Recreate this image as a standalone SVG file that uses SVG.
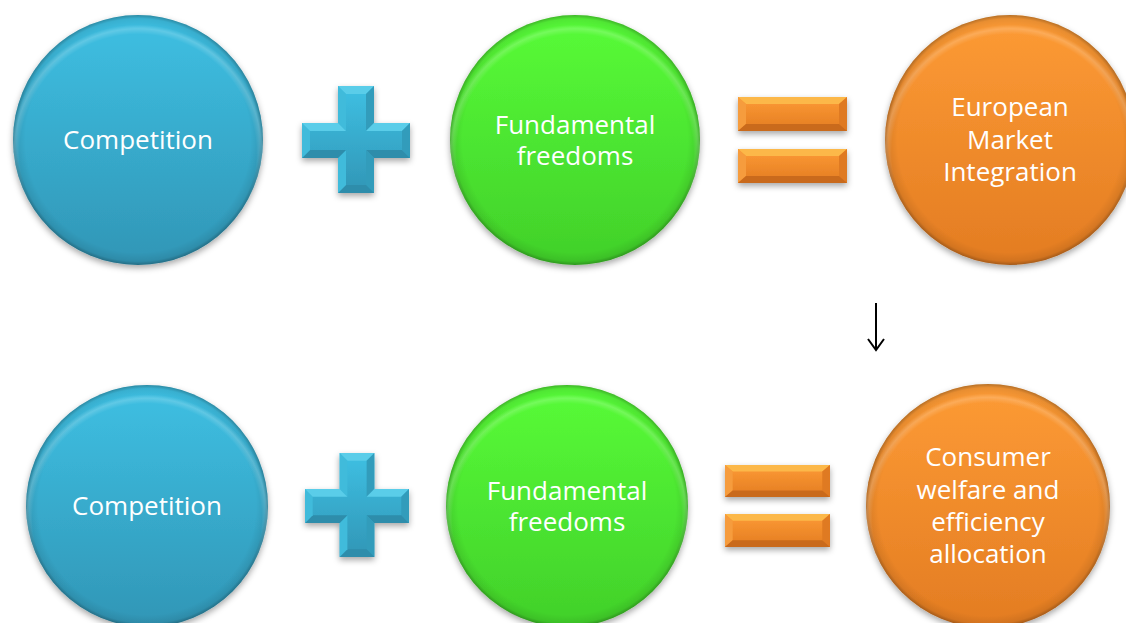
<svg xmlns="http://www.w3.org/2000/svg" width="1126" height="623" viewBox="0 0 1126 623">
<defs>
<linearGradient id="gBlue" x1="0" y1="0" x2="0" y2="1"><stop offset="0" stop-color="#3ec0e3"/><stop offset="1" stop-color="#3196b6"/></linearGradient>
<linearGradient id="gGreen" x1="0" y1="0" x2="0" y2="1"><stop offset="0" stop-color="#58fc38"/><stop offset="1" stop-color="#41d02a"/></linearGradient>
<linearGradient id="gOrange" x1="0" y1="0" x2="0" y2="1"><stop offset="0" stop-color="#fd9b35"/><stop offset="1" stop-color="#e37c22"/></linearGradient>
<radialGradient id="rim" cx="0.5" cy="0.5" r="0.5">
<stop offset="0" stop-color="#000" stop-opacity="0"/>
<stop offset="0.9" stop-color="#000" stop-opacity="0"/>
<stop offset="0.97" stop-color="#000" stop-opacity="0.08"/>
<stop offset="1" stop-color="#000" stop-opacity="0.28"/>
</radialGradient>
<radialGradient id="hi" cx="0.5" cy="0.55" r="0.55">
<stop offset="0" stop-color="#fff" stop-opacity="0"/>
<stop offset="0.86" stop-color="#fff" stop-opacity="0"/>
<stop offset="0.9" stop-color="#fff" stop-opacity="0.18"/>
<stop offset="0.93" stop-color="#fff" stop-opacity="0"/>
</radialGradient>
<filter id="shadow" x="-20%" y="-20%" width="140%" height="140%">
<feDropShadow dx="0" dy="3" stdDeviation="3" flood-color="#000" flood-opacity="0.35"/>
</filter>
<g id="plusShape">
<polygon class="pface" points="36,0 72,0 72,37 108,37 108,72 72,72 72,107 36,107 36,72 0,72 0,37 36,37"/>
<polygon class="ptop" points="36,0 72,0 64,8 44,8"/>
<polygon class="pleft" points="36,0 44,8 44,45 36,37"/>
<polygon class="pright" points="72,0 72,37 64,45 64,8"/>
<polygon class="ptop" points="72,37 108,37 100,45 64,45"/>
<polygon class="pright" points="108,37 108,72 100,64 100,45"/>
<polygon class="pbot" points="108,72 72,72 64,64 100,64"/>
<polygon class="pright" points="72,72 72,107 64,99 64,64"/>
<polygon class="pbot" points="72,107 36,107 44,99 64,99"/>
<polygon class="pleft" points="36,107 36,72 44,64 44,99"/>
<polygon class="pbot" points="36,72 0,72 8,64 44,64"/>
<polygon class="pleft" points="0,72 0,37 8,45 8,64"/>
<polygon class="ptop" points="0,37 36,37 44,45 8,45"/>
</g>
<g id="barShape">
<rect class="eface" x="0" y="0" width="109" height="34"/>
<polygon class="etop" points="0,0 109,0 101,7 8,7"/>
<polygon class="eleft" points="0,0 8,7 8,27 0,34"/>
<polygon class="eright" points="109,0 109,34 101,27 101,7"/>
<polygon class="ebot" points="0,34 109,34 101,27 8,27"/>
</g>
</defs>
<style>
.txt{font-family:"Open Sans","Noto Sans","Liberation Sans",sans-serif;font-size:26px;fill:#ffffff;text-anchor:middle}
.pface{fill:url(#gBlue)}
.ptop{fill:#5acde9}
.pleft{fill:#40bbdb}
.pright{fill:#329cbb}
.pbot{fill:#2d8dab}
.eface{fill:url(#gOrange)}
.etop{fill:#fcb848}
.eleft{fill:#f69c3c}
.eright{fill:#df7a22}
.ebot{fill:#c96a1d}
.sym{filter:url(#shadow)}
.arrow{fill:none;stroke:#000;stroke-width:2}
</style>

<g id="n1">
<circle cx="138" cy="140" r="125" fill="url(#gBlue)" filter="url(#shadow)"/>
<circle cx="138" cy="140" r="125" fill="url(#rim)"/>
<circle cx="138" cy="140" r="125" fill="url(#hi)"/>
<text class="txt" x="138" y="149">Competition</text>
</g>
<g id="plus1" class="sym"><use href="#plusShape" x="302" y="86"/></g>
<g id="n2">
<circle cx="575" cy="140" r="125" fill="url(#gGreen)" filter="url(#shadow)"/>
<circle cx="575" cy="140" r="125" fill="url(#rim)"/>
<circle cx="575" cy="140" r="125" fill="url(#hi)"/>
<text class="txt" x="575" y="134">Fundamental</text>
<text class="txt" x="575" y="165">freedoms</text>
</g>
<g id="eq1" class="sym">
<use href="#barShape" x="738" y="97"/>
<use href="#barShape" x="738" y="149"/>
</g>
<g id="n3">
<circle cx="1010" cy="140" r="125" fill="url(#gOrange)" filter="url(#shadow)"/>
<circle cx="1010" cy="140" r="125" fill="url(#rim)"/>
<circle cx="1010" cy="140" r="125" fill="url(#hi)"/>
<text class="txt" x="1010" y="116">European</text>
<text class="txt" x="1010" y="149">Market</text>
<text class="txt" x="1010" y="181">Integration</text>
</g>

<g id="n4">
<circle cx="147" cy="506" r="121" fill="url(#gBlue)" filter="url(#shadow)"/>
<circle cx="147" cy="506" r="121" fill="url(#rim)"/>
<circle cx="147" cy="506" r="121" fill="url(#hi)"/>
<text class="txt" x="147" y="515">Competition</text>
</g>
<g id="plus2" class="sym"><use href="#plusShape" transform="translate(305 453) scale(0.963 0.972)"/></g>
<g id="n5">
<circle cx="567" cy="506" r="121" fill="url(#gGreen)" filter="url(#shadow)"/>
<circle cx="567" cy="506" r="121" fill="url(#rim)"/>
<circle cx="567" cy="506" r="121" fill="url(#hi)"/>
<text class="txt" x="567" y="500">Fundamental</text>
<text class="txt" x="567" y="531">freedoms</text>
</g>
<g id="eq2" class="sym">
<use href="#barShape" transform="translate(725 465) scale(0.963 0.94)"/>
<use href="#barShape" transform="translate(725 514) scale(0.963 0.97)"/>
</g>
<g id="n6">
<circle cx="988" cy="506" r="122" fill="url(#gOrange)" filter="url(#shadow)"/>
<circle cx="988" cy="506" r="122" fill="url(#rim)"/>
<circle cx="988" cy="506" r="122" fill="url(#hi)"/>
<text class="txt" x="988" y="466">Consumer</text>
<text class="txt" x="988" y="499">welfare and</text>
<text class="txt" x="988" y="531">efficiency</text>
<text class="txt" x="988" y="563">allocation</text>
</g>

<g id="connectors">
<path class="arrow" d="M876 303 V349"/>
<path class="arrow" d="M868 339 L876 350 L884 339"/>
</g>
</svg>
